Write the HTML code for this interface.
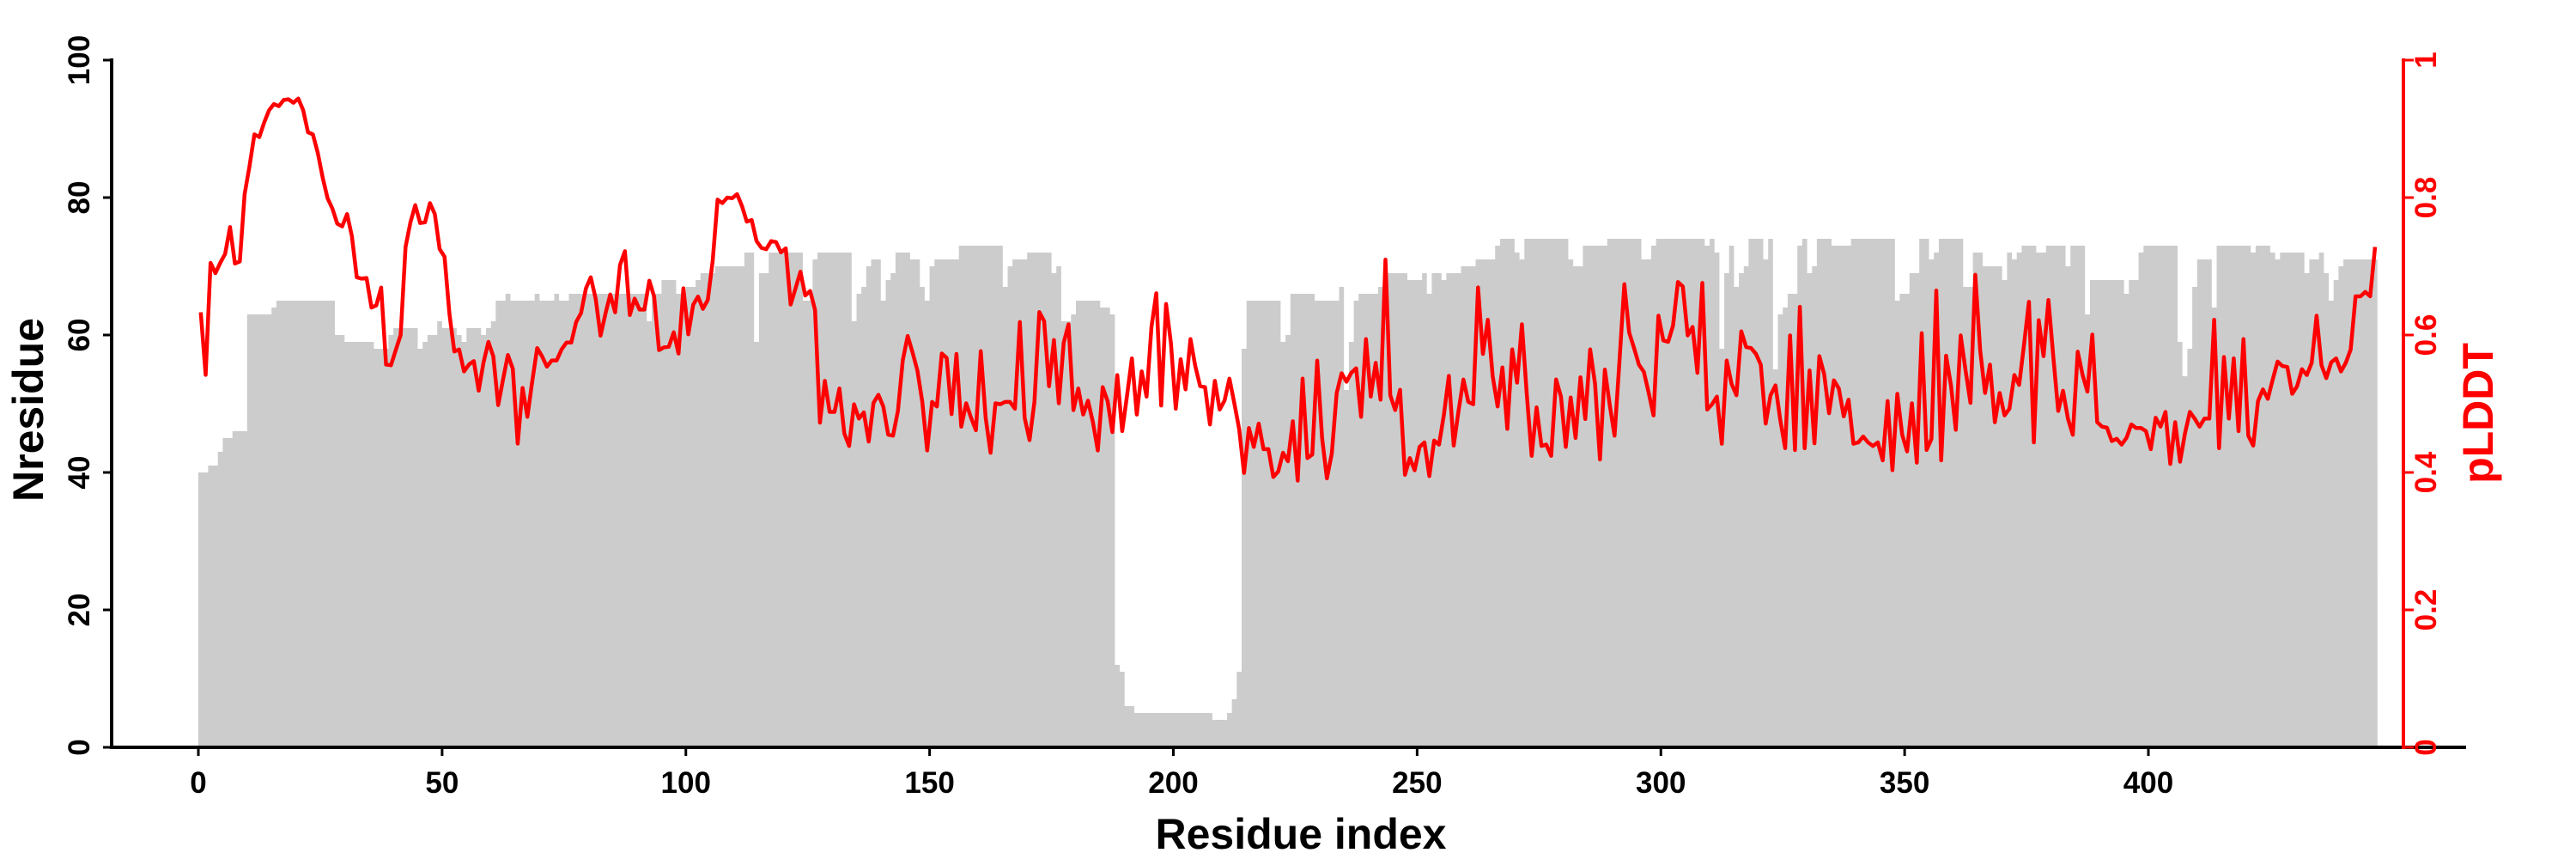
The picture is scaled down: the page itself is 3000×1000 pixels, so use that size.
<!DOCTYPE html>
<html><head><meta charset="utf-8"><style>
html,body{margin:0;padding:0;background:#fff;}
svg{display:block;}
text{font-family:"Liberation Sans",Arial,sans-serif;font-weight:bold;}
</style></head><body>
<svg id="s" width="3000" height="1000" viewBox="0 0 3000 1000" xmlns="http://www.w3.org/2000/svg">
<g id="bars"></g>
<path id="line" fill="none" stroke="#ff0000" stroke-width="4.5" stroke-linejoin="round"/>
<!-- axes -->
<line x1="130" y1="870" x2="2872" y2="870" stroke="#000" stroke-width="4"/>
<line x1="130" y1="68" x2="130" y2="872" stroke="#000" stroke-width="4"/>
<g id="lt" stroke="#000" stroke-width="3"></g>
<g id="bt" stroke="#000" stroke-width="3"></g>
<line x1="2799" y1="68" x2="2799" y2="872" stroke="#ff0000" stroke-width="4"/>
<g id="rt" stroke="#ff0000" stroke-width="3"></g>
<g id="labels"></g>
<text x="1515" y="988" font-size="50" text-anchor="middle">Residue index</text>
<text transform="translate(50,477) rotate(-90)" font-size="50" text-anchor="middle">Nresidue</text>
<text transform="translate(2903,481) rotate(-90)" font-size="50" text-anchor="middle" fill="#ff0000">pLDDT</text>
</svg>
<script>
var X=function(r){return 231+5.6775*r;};
var ns="http://www.w3.org/2000/svg";
// bar segments [startResidue, endResidue, n]
var seg=[[0,2,40],[2,4,41],[4,5,43],[5,7,45],[7,10,46],[10,15,63],[15,16,64],[16,28,65],[28,30,60],[30,36,59],[36,39,58],[39,40,60],[40,45,61],[45,46,58],[46,47,59],[47,49,60],[49,50,62],[50,53,61],[53,54,60],[54,55,59],[55,58,61],[58,59,60],[59,60,61],[60,61,62],[61,63,65],[63,64,66],[64,69,65],[69,70,66],[70,73,65],[73,74,66],[74,76,65],[76,92,66],[92,93,62],[93,95,66],[95,98,68],[98,100,66],[100,102,67],[102,103,68],[103,106,69],[106,112,70],[112,114,72],[114,115,59],[115,117,69],[117,124,72],[124,126,65],[126,127,71],[127,134,72],[134,135,62],[135,136,66],[136,137,67],[137,138,70],[138,140,71],[140,141,65],[141,142,68],[142,143,69],[143,146,72],[146,148,71],[148,149,67],[149,150,65],[150,151,70],[151,156,71],[156,165,73],[165,166,67],[166,167,70],[167,170,71],[170,175,72],[175,176,69],[176,177,70],[177,179,62],[179,180,63],[180,185,65],[185,187,64],[187,188,63],[188,189,12],[189,190,11],[190,192,6],[192,208,5],[208,211,4],[211,212,5],[212,213,7],[213,214,11],[214,215,58],[215,222,65],[222,223,59],[223,224,60],[224,229,66],[229,234,65],[234,235,67],[235,236,52],[236,237,59],[237,238,65],[238,242,66],[242,244,67],[244,248,69],[248,251,68],[251,252,69],[252,253,66],[253,255,69],[255,256,68],[256,259,69],[259,262,70],[262,266,71],[266,267,73],[267,270,74],[270,271,72],[271,272,71],[272,281,74],[281,282,71],[282,284,70],[284,289,73],[289,296,74],[296,298,71],[298,299,73],[299,309,74],[309,310,73],[310,311,74],[311,312,72],[312,313,58],[313,314,69],[314,315,73],[315,316,67],[316,317,69],[317,318,70],[318,321,74],[321,322,71],[322,323,74],[323,324,55],[324,325,63],[325,326,64],[326,328,66],[328,329,73],[329,330,74],[330,331,69],[331,332,70],[332,335,74],[335,336,73],[336,339,73],[339,348,74],[348,349,65],[349,351,66],[351,353,69],[353,355,74],[355,356,71],[356,357,72],[357,362,74],[362,364,67],[364,366,72],[366,370,70],[370,371,68],[371,372,72],[372,373,71],[373,374,72],[374,377,73],[377,379,72],[379,383,73],[383,384,70],[384,387,73],[387,388,63],[388,395,68],[395,396,66],[396,398,68],[398,399,72],[399,406,73],[406,407,59],[407,408,54],[408,409,58],[409,410,67],[410,413,71],[413,414,64],[414,421,73],[421,422,72],[422,425,73],[425,426,72],[426,427,71],[427,432,72],[432,433,69],[433,435,71],[435,436,72],[436,437,69],[437,438,65],[438,439,68],[439,440,70],[440,447,71]];
var d="M"+X(0)+",870";
seg.forEach(function(s){var y=870-8*s[2];d+=" L"+X(s[0]).toFixed(1)+","+y+" L"+X(s[1]).toFixed(1)+","+y;});
d+=" L"+X(447)+",870 Z";
var bp=document.createElementNS(ns,"path");bp.setAttribute("d",d);bp.setAttribute("fill","#cccccc");
document.getElementById("bars").appendChild(bp);
// pLDDT values
var p=[.633,.542,.705,.690,.705,.718,.757,.704,.707,.805,.846,.892,.888,.909,.927,.936,.933,.942,.943,.938,.944,.927,.895,.892,.865,.829,.799,.784,.762,.758,.776,.744,.684,.682,.683,.640,.643,.669,.557,.556,.578,.600,.728,.764,.789,.763,.764,.792,.776,.725,.714,.631,.576,.579,.547,.557,.562,.519,.560,.590,.569,.498,.535,.571,.551,.442,.523,.481,.533,.581,.569,.554,.563,.563,.579,.589,.589,.619,.632,.668,.684,.653,.599,.631,.659,.633,.702,.722,.629,.653,.637,.637,.679,.656,.578,.582,.583,.604,.573,.668,.601,.644,.656,.638,.651,.708,.797,.792,.800,.799,.805,.788,.765];
var z9=[375,422,437,440,422,424,447,438,563,527,490,543,533,575,826,733,802,802,750,850,878,785,817,803,868,782,764,790,853,855,800,687,633,670,710,780,888,780,790,672,682,807,673,835,783,815,843,667,815,893,783,785,780,780,795,602,815,865,780,580,600,745,642,783,648,607,798,750,808,777,825,888,747,778,847,720,845,765,683,808,712,768,613,538,788,562,650,795,685,752,640,700,745,747,830,733,797,777,728,783,840,938,838,880,828,885,885,947,935,893,912,823,955];
var z10=[728,905,897,688,860,950,895,760,716,735,715,705,813,640,768,693,775,463,765,798,753,942,905,932,880,870,945,866,875,808,722,877,800,730,780,785,525,673,597,723,790,703,840,663,737,607,763,900,792,878,875,900,730,768,880,770,860,725,818,663,740,908,708,785,855,690,518,625,660,697,713,760,810,588,643,646,610,513,523,632,613,715,515,797,785,768,873,688,740,765,623,658,660,673,697,828,765,743,820,883,632,887,568,883,710,872,678,718,805,732,750,812,775,873];
var z11=[870,857,870,878,870,910,778,932,762,853,890,783,915,627,887,862,532,910,677,743,842,632,710,782,497,665,760,697,825,760,810,795,720,742,652,557,870,598,678,553,680,800,755,817,853,668,720,757,630,825,835,837,867,862,875,860,830,838,838,845,885,815,835,802,918,825,913,850,802,817,835,817,817,597,883,680,817,683,845,640,855,877,778,752,773,730,690,700,702,762,745,707,720,693,588,698,727,692,683,712,693,663,545,545,535,545,435];
function cv(y){return 1.0125-y/1529.6;}
z9.forEach(function(y){p.push(cv(y));});      // k=113..225
z10.forEach(function(y){p.push(cv(y));});     // k=226..339
z11.forEach(function(y){p.push(cv(y));});     // k=340..446
var ld="";
for(var k=0;k<p.length&&k<447;k++){ld+=(k?" L":"M")+X(k+0.5).toFixed(1)+","+(870-800*p[k]).toFixed(1);}
document.getElementById("line").setAttribute("d",ld);
// ticks and labels
var lt=document.getElementById("lt"),bt=document.getElementById("bt"),rt=document.getElementById("rt"),lb=document.getElementById("labels");
function el(tag,at,par,txt){var e=document.createElementNS(ns,tag);for(var a in at)e.setAttribute(a,at[a]);if(txt!==undefined)e.textContent=txt;par.appendChild(e);return e;}
for(var i=0;i<=5;i++){var y=870-160*i;
 el("line",{x1:120,y1:y,x2:130,y2:y},lt);
 el("text",{transform:"translate(104,"+y+") rotate(-90)","font-size":35,"text-anchor":"middle"},lb,String(20*i));
 el("line",{x1:2799,y1:y,x2:2811,y2:y},rt);
 el("text",{transform:"translate(2837,"+y+") rotate(-90)","font-size":35,"text-anchor":"middle",fill:"#ff0000"},lb,i==0?"0":(i==5?"1":(0.2*i).toFixed(1)));
}
for(var j=0;j<=8;j++){var x=X(50*j);
 el("line",{x1:x,y1:870,x2:x,y2:880},bt);
 el("text",{x:x,y:923,"font-size":35,"text-anchor":"middle"},lb,String(50*j));
}
</script>
</body></html>
